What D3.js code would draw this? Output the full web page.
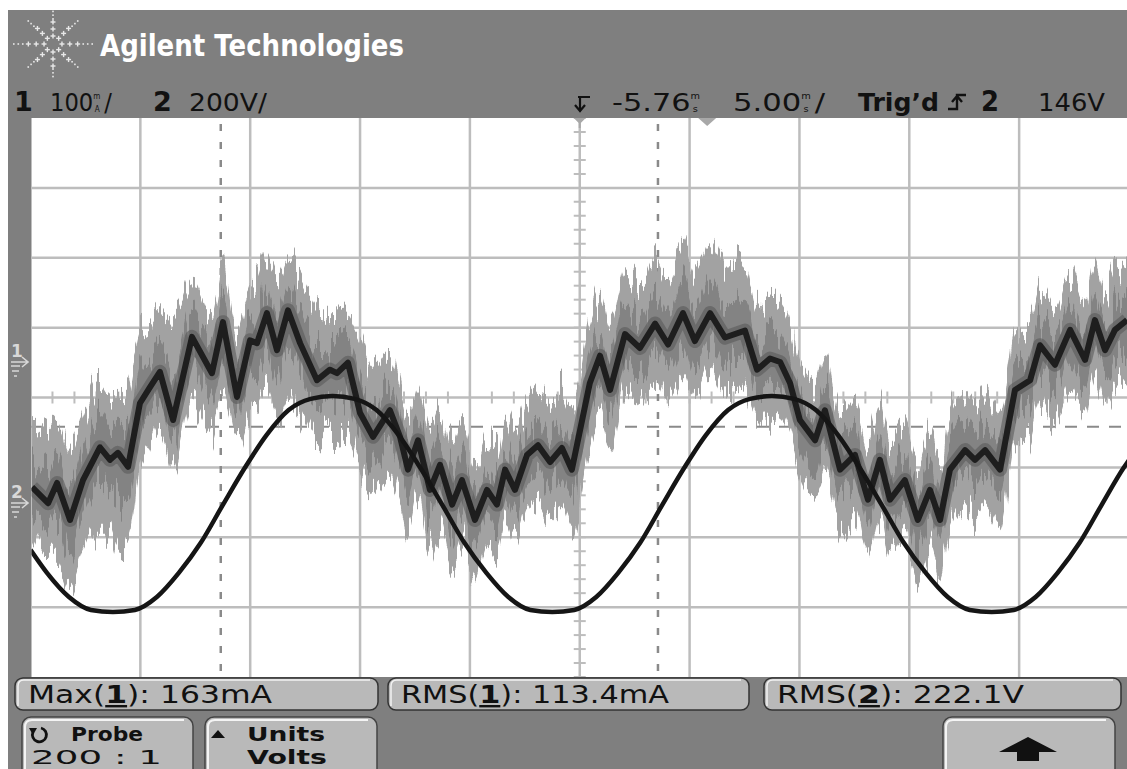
<!DOCTYPE html>
<html>
<head>
<meta charset="utf-8">
<script src="https://cdn.jsdelivr.net/npm/d3@7"></script>
<style>
html, body { margin: 0; padding: 0; background: #fff; }
svg { display: block; }
</style>
</head>
<body>
<svg id="scope"></svg>
<script>
const width = 1127;
const height = 769;

// channel 1 (current, mA) - vertices of the averaged trace and the noise envelope
const ch1Time = [0.07, 0.80, 1.21, 1.80, 2.39, 3.16, 3.62, 3.98, 4.44, 4.98, 5.44, 5.89, 6.49, 7.35, 8.26, 8.76, 9.40, 9.99, 10.31, 10.76,
    11.22, 11.72, 12.27, 13.04, 13.63, 13.95, 14.45, 15.00, 15.59, 16.36, 16.82, 17.18, 17.64, 18.18, 18.64, 19.19, 19.64, 20.23, 20.78, 21.23,
    21.60, 22.05, 22.60, 23.10, 23.65, 24.19, 24.64, 25.46, 25.92, 26.38, 27.06, 27.74, 28.43, 29.02, 29.70, 30.24, 30.93, 31.61, 32.52, 33.07,
    33.66, 34.12, 34.57, 35.02, 35.71, 36.16, 36.85, 37.53, 38.12, 38.66, 39.12, 39.80, 40.39, 40.94, 41.40, 41.85, 42.54, 42.99, 43.45, 44.13,
    44.81, 45.50, 45.95, 46.63, 47.32, 48.00, 48.45, 48.91, 49.36, 49.91];
const ch1Mean = [-179, -202, -173, -226, -169, -122, -140, -130, -150, -59, -36, -14, -83, 36, -16, 57, -50, 31, 27, 70,
    17, 74, 27, -26, -11, -16, -1, -73, -107, -69, -107, -154, -112, -183, -147, -204, -169, -226, -183, -204,
    -154, -183, -133, -119, -143, -123, -154, -30, 9, -40, 40, 20, 55, 25, 70, 30, 70, 35, 45, -11,
    5, 0, -30, -83, -112, -69, -154, -133, -197, -140, -197, -169, -226, -183, -226, -154, -126, -140, -126, -154,
    -40, -26, 24, -4, 46, 3, 60, 17, 46, 60];
const ch1High = [-93, -97, -83, -130, -83, -30, -47, -50, -36, 46, 60, 74, 64, 117, 64, 136, 41, 103, 110, 150,
    117, 150, 127, 79, 64, 74, 64, 31, -11, 13, -40, -83, -36, -100, -70, -125, -90, -145, -105, -120,
    -75, -100, -55, -40, -60, -45, -70, 60, 95, 50, 130, 110, 150, 120, 165, 125, 170, 135, 140, 80,
    95, 85, 55, -5, -35, 10, -75, -55, -115, -60, -115, -90, -145, -105, -145, -75, -45, -60, -45, -75,
    40, 55, 105, 75, 125, 85, 140, 95, 125, 140];
const ch1Low = [-247, -283, -283, -319, -276, -240, -240, -267, -262, -154, -126, -97, -154, -54, -97, -40, -112, -69, -61, -33,
    -83, -54, -69, -112, -97, -100, -97, -154, -183, -154, -197, -240, -190, -262, -230, -290, -255, -320, -265, -280,
    -235, -262, -215, -200, -225, -210, -240, -115, -75, -125, -40, -60, -25, -55, -10, -50, -10, -45, -35, -90,
    -75, -80, -110, -160, -190, -150, -235, -215, -280, -220, -280, -250, -310, -265, -305, -235, -205, -220, -205, -235,
    -120, -105, -55, -85, -35, -75, -20, -60, -35, -20];

// channel 2 (line voltage, V)
const ch2Time = [0, 0.75, 1.75, 2.75, 3.75, 4.75, 5.75, 6.75, 7.75, 8.75, 9.75, 10.75, 11.75, 12.75, 13.75, 14.75, 15.75, 16.75, 17.75, 18.75,
    19.75, 20.75, 21.75, 22.75, 23.75, 24.75, 25.75, 26.75, 27.75, 28.75, 29.75, 30.75, 31.75, 32.75, 33.75, 34.75, 35.75, 36.75, 37.75, 38.75,
    39.75, 40.75, 41.75, 42.75, 43.75, 44.75, 45.75, 46.75, 47.75, 48.75, 49.75, 50];
const ch2Volts = [-134, -200, -269, -306, -312, -306, -269, -200, -114, -6, 100, 195, 266, 298, 306, 298, 266, 195, 100, -6,
    -114, -200, -269, -306, -312, -306, -269, -200, -114, -6, 100, 195, 266, 298, 306, 298, 266, 195, 100, -6,
    -114, -200, -269, -306, -312, -306, -269, -200, -114, -6, 100, 123];

const measNames = ["Max", "RMS", "RMS"];
const measChannels = ["1", "1", "2"];
const measValues = ["163mA", "113.4mA", "222.1V"];
const cursorTimes = [8.66, 28.56];
const levelDiv = -0.42;

const gray = "#7f7f7f";
const panel = "#b9b9b9";
const font = "'DejaVu Sans', Verdana, sans-serif";

const svg = d3.select("#scope").attr("width", width).attr("height", height);

svg.append("rect").attr("width", width).attr("height", height).attr("fill", "#fff");
svg.append("rect").attr("x", 8).attr("y", 10).attr("width", width - 8).attr("height", height - 10).attr("fill", gray);

// plot scales: 10 x 5 ms horizontally, 8 divisions vertically
const x = d3.scaleLinear().domain([0, 50]).range([30.5, 1129]);
const yDiv = d3.scaleLinear().domain([-4, 4]).range([677, 118]);
const y1 = d3.scaleLinear().domain([0, 100]).range([362, 362 - 69.9]);
const y2 = d3.scaleLinear().domain([0, 200]).range([503, 503 - 69.9]);

const defs = svg.append("defs");
defs.append("clipPath").attr("id", "plotClip").append("rect")
    .attr("x", 31.5).attr("y", 118).attr("width", width - 31.5).attr("height", 559);

const jag = defs.append("filter").attr("id", "jag")
    .attr("x", "-2%").attr("y", "-30%").attr("width", "104%").attr("height", "160%");
jag.append("feTurbulence").attr("type", "fractalNoise").attr("baseFrequency", "0.3 0.01")
    .attr("numOctaves", 2).attr("seed", 7).attr("result", "n");
jag.append("feColorMatrix").attr("in", "n").attr("type", "matrix")
    .attr("values", "0 0 0 0 0.5  1 0 0 0 0  0 0 0 0 0  0 0 0 0 1").attr("result", "m");
jag.append("feDisplacementMap").attr("in", "SourceGraphic").attr("in2", "m").attr("scale", 70)
    .attr("xChannelSelector", "R").attr("yChannelSelector", "G");

svg.append("rect").attr("x", 31.5).attr("y", 118).attr("width", width - 31.5).attr("height", 559).attr("fill", "#fff");

const plot = svg.append("g").attr("clip-path", "url(#plotClip)");

// graticule
plot.selectAll(".vgrid").data(d3.range(5, 50, 5)).enter().append("line")
    .attr("x1", d => x(d)).attr("x2", d => x(d)).attr("y1", 118).attr("y2", 677)
    .attr("stroke", "#bdbdbd").attr("stroke-width", 2.5);
plot.selectAll(".hgrid").data(d3.range(-3, 4)).enter().append("line")
    .attr("x1", 31).attr("x2", width).attr("y1", d => yDiv(d)).attr("y2", d => yDiv(d))
    .attr("stroke", "#bdbdbd").attr("stroke-width", 2.5);
plot.selectAll(".vtick").data(d3.range(-4, 4.01, 0.2)).enter().append("line")
    .attr("x1", x(25) - 6).attr("x2", x(25) + 6).attr("y1", d => yDiv(d)).attr("y2", d => yDiv(d))
    .attr("stroke", "#bdbdbd").attr("stroke-width", 2);
plot.selectAll(".htick").data(d3.range(0, 50.01, 1)).enter().append("line")
    .attr("x1", d => x(d)).attr("x2", d => x(d)).attr("y1", yDiv(0) - 6).attr("y2", yDiv(0) + 6)
    .attr("stroke", "#bdbdbd").attr("stroke-width", 2);

// cursors and trigger level
plot.selectAll(".cursor").data(cursorTimes).enter().append("line")
    .attr("x1", d => x(d)).attr("x2", d => x(d)).attr("y1", 118).attr("y2", 677)
    .attr("stroke", "#8a8a8a").attr("stroke-width", 2.5).attr("stroke-dasharray", "7,11").attr("stroke-dashoffset", -6);
plot.append("line").attr("x1", 31).attr("x2", width).attr("y1", yDiv(levelDiv)).attr("y2", yDiv(levelDiv))
    .attr("stroke", "#8a8a8a").attr("stroke-width", 2).attr("stroke-dasharray", "12,10");

// channel 1 noise envelope
const ch1 = ch1Time.map((t, i) => ({ t: t, mean: ch1Mean[i], hi: ch1High[i], lo: ch1Low[i] }));
const band = d3.area().x(d => x(d.t)).y0(d => y1(d.lo)).y1(d => y1(d.hi)).curve(d3.curveMonotoneX);
plot.append("path").datum(ch1).attr("d", band).attr("fill", "#a2a2a2").attr("filter", "url(#jag)");
const inner = d3.area().x(d => x(d.t)).y0(d => y1(d.mean * 0.55 + d.lo * 0.45)).y1(d => y1(d.mean * 0.55 + d.hi * 0.45)).curve(d3.curveMonotoneX);
plot.append("path").datum(ch1).attr("d", inner).attr("fill", "#838383").attr("filter", "url(#jag)");
const meanLine = d3.line().x(d => x(d.t)).y(d => y1(d.mean));
plot.append("path").datum(ch1).attr("d", meanLine).attr("fill", "none")
    .attr("stroke", "#5a5a5a").attr("stroke-width", 14).attr("stroke-linejoin", "round").attr("opacity", 0.6);
plot.append("path").datum(ch1).attr("d", meanLine).attr("fill", "none")
    .attr("stroke", "#1e1e1e").attr("stroke-width", 6).attr("stroke-linejoin", "round");

// channel 2
const ch2 = ch2Time.map((t, i) => ({ t: t, v: ch2Volts[i] }));
plot.append("path").datum(ch2)
    .attr("d", d3.line().x(d => x(d.t)).y(d => y2(d.v)).curve(d3.curveMonotoneX))
    .attr("fill", "none").attr("stroke", "#151515").attr("stroke-width", 4.5);

// markers on the graticule top edge
svg.append("path").attr("d", `M${x(25) - 6},118 L${x(25) + 6},118 L${x(25)},124 Z M${x(25) - 1},118 L${x(25) + 1},118 L${x(25) + 1},128 L${x(25) - 1},128 Z`).attr("fill", "#a8a8a8");
svg.append("path").attr("d", `M${x(30.8) - 9},118 L${x(30.8) + 9},118 L${x(30.8)},126 Z`).attr("fill", "#a8a8a8");

// header
const logo = svg.append("g").attr("transform", "translate(53,44)").attr("fill", "#e8e8e8");
d3.range(0, 360, 45).forEach(a => {
    const rad = a * Math.PI / 180;
    const sx = a % 180 === 0 ? 1.12 : 1;
    [8, 15, 22].forEach(r => {
        const px = Math.cos(rad) * r * sx, py = Math.sin(rad) * r;
        logo.append("rect").attr("x", px - 2.5).attr("y", py - 0.7).attr("width", 5).attr("height", 1.4);
        logo.append("rect").attr("x", px - 0.7).attr("y", py - 2.5).attr("width", 1.4).attr("height", 5);
    });
    [27, 31, 35].forEach(r => {
        logo.append("rect").attr("x", Math.cos(rad) * r * sx - 0.8).attr("y", Math.sin(rad) * r * 0.93 - 0.8).attr("width", 1.6).attr("height", 1.6);
    });
});
svg.append("text").attr("x", 100).attr("y", 56).attr("fill", "#fff").attr("font-family", font)
    .attr("font-weight", "bold").attr("font-size", 30).attr("textLength", 304).attr("lengthAdjust", "spacingAndGlyphs")
    .text("Agilent Technologies");

// status line
function label(xp, txt, size, bold, len) {
    const t = svg.append("text").attr("x", xp).attr("y", 111).attr("font-family", font)
        .attr("font-size", size).attr("font-weight", bold ? "bold" : "normal").attr("fill", "#111").text(txt);
    if (len) t.attr("textLength", len).attr("lengthAdjust", "spacingAndGlyphs");
    return t;
}
// value with a small two-line unit (e.g. m over A) kept in one text element
function scaled(xp, num, top, bottom, tail, len) {
    const t = svg.append("text").attr("x", xp).attr("y", 111).attr("font-family", font).attr("font-size", 25)
        .attr("fill", "#111").attr("textLength", len).attr("lengthAdjust", "spacingAndGlyphs");
    t.append("tspan").text(num);
    t.append("tspan").attr("font-size", 8).attr("dy", -12).text(top);
    t.append("tspan").attr("font-size", 8).attr("dx", -6).attr("dy", 13).text(bottom);
    t.append("tspan").attr("dx", 5).attr("dy", -1).text(tail);
    return t;
}
label(14, "1", 27, true);
scaled(50, "100", "m", "A", "/", 62);
label(153, "2", 27, true);
label(189, "200V/", 25, false, 78);

svg.append("path").attr("d", "M578,97 L590,97 M580,97 L580,110 M575,105 L580,111 L585,105")
    .attr("stroke", "#111").attr("stroke-width", 2.2).attr("fill", "none");
scaled(612, "-5.76", "m", "s", "", 88);
scaled(733, "5.00", "m", "s", "/", 92);
label(858, "Trig\u2019d", 24, true, 81);
svg.append("path").attr("d", "M948,109 L957,109 L957,95 L966,95 M952,102 L957,96 L962,102")
    .attr("stroke", "#111").attr("stroke-width", 2.4).attr("fill", "none");
label(981, "2", 28, true, 18);
label(1038, "146V", 25, false, 67);

// channel ground markers
[["1", 362], ["2", 503]].forEach(([c, yy]) => {
    const g = svg.append("g").attr("fill", "#d8d8d8").attr("stroke", "#d8d8d8");
    g.append("text").attr("x", 11).attr("y", yy - 5).attr("font-family", font).attr("font-size", 17)
        .attr("font-weight", "bold").attr("stroke", "none").text(c);
    g.append("path").attr("d", `M11,${yy} L27,${yy} M22,${yy - 5} L28,${yy} L22,${yy + 5} M11,${yy + 4} L20,${yy + 4} M12,${yy + 9} L19,${yy + 9} M14,${yy + 14} L17,${yy + 14}`)
        .attr("stroke-width", 1.6).attr("fill", "none");
});

// measurement readouts
const boxes = [[15, 363, 244], [388, 361, 268], [764, 357, 247]];
boxes.forEach(([bx, bw, tl], i) => {
    svg.append("rect").attr("x", bx).attr("y", 678).attr("width", bw).attr("height", 32).attr("rx", 8)
        .attr("fill", panel).attr("stroke", "#333").attr("stroke-width", 1.5);
    svg.append("path").attr("d", `M${bx + 3},706 L${bx + 3},686 Q${bx + 3},680 ${bx + 9},680 L${bx + bw - 8},680`)
        .attr("stroke", "#f2f2f2").attr("stroke-width", 1.5).attr("fill", "none");
    const t = svg.append("text").attr("x", bx + 13).attr("y", 703).attr("font-family", font).attr("font-size", 24)
        .attr("fill", "#111").attr("textLength", tl).attr("lengthAdjust", "spacingAndGlyphs");
    t.append("tspan").text(measNames[i] + "(");
    t.append("tspan").attr("font-weight", "bold").attr("text-decoration", "underline").text(measChannels[i]);
    t.append("tspan").text("):  " + measValues[i]);
});

// soft keys
const keys = [[22, 171], [205, 172], [943, 172]];
keys.forEach(([kx, kw]) => {
    svg.append("rect").attr("x", kx).attr("y", 717).attr("width", kw).attr("height", 70).attr("rx", 9)
        .attr("fill", panel).attr("stroke", "#444").attr("stroke-width", 1.5);
    svg.append("path").attr("d", `M${kx + 3},769 L${kx + 3},727 Q${kx + 3},720 ${kx + 10},720 L${kx + kw - 9},720`)
        .attr("stroke", "#f4f4f4").attr("stroke-width", 2).attr("fill", "none");
});
svg.append("path").attr("d", "M41,728 A7,7 0 1 1 33,732").attr("stroke", "#111").attr("stroke-width", 2.8).attr("fill", "none");
svg.append("path").attr("d", "M29,728 L37,728 L33,735 Z").attr("fill", "#111");
const keyText = (xp, yp, txt, bold, len) => svg.append("text").attr("x", xp).attr("y", yp).attr("font-family", font)
    .attr("font-size", 20).attr("font-weight", bold ? "bold" : "normal").attr("fill", "#111")
    .attr("textLength", len).attr("lengthAdjust", "spacingAndGlyphs").text(txt);
keyText(71, 741, "Probe", true, 72);
keyText(31, 764, "200 : 1", false, 131);
svg.append("path").attr("d", "M211,738 L218,730 L225,738 Z").attr("fill", "#111");
keyText(247, 741, "Units", true, 78);
keyText(247, 764, "Volts", true, 80);
svg.append("path").attr("d", "M1028,737 L1057,752 L1039,752 L1039,761 L1017,761 L1017,752 L999,752 Z").attr("fill", "#111");
</script>
</body>
</html>
